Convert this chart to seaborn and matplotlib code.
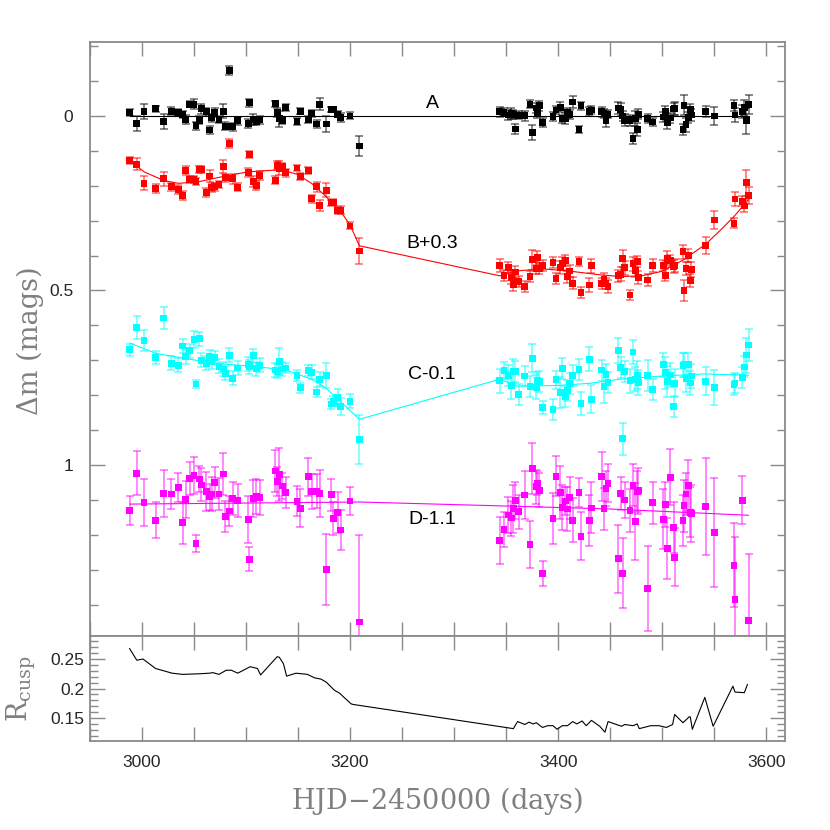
import numpy as np
import matplotlib
matplotlib.use("Agg")
import matplotlib.pyplot as plt
import seaborn as sns
from matplotlib.ticker import MultipleLocator, FixedLocator, FuncFormatter

nan = np.nan

# epochs (HJD-2450000), season 1 and season 2
t_season1 = [2988, 2995, 3002, 3013, 3021, 3028, 3035, 3039, 3042, 3046, 3050, 3052, 3055, 3057, 3062,
             3065, 3067, 3070, 3074, 3078, 3080, 3084, 3087, 3092, 3102, 3103, 3107, 3110, 3113, 3128,
             3130, 3132, 3135, 3138, 3149, 3152, 3160, 3163, 3168, 3171, 3177, 3182, 3184, 3188, 3191,
             3200, 3209]
t_season2 = [3344, 3348, 3352, 3355, 3357, 3359, 3362, 3368, 3373, 3375, 3379, 3380, 3382, 3385, 3395,
             3398, 3402, 3404, 3407, 3409, 3411, 3414, 3420, 3422, 3430, 3432, 3442, 3444, 3446, 3448,
             3458, 3460, 3462, 3464, 3469, 3472, 3474, 3476, 3477, 3486, 3491, 3501, 3503, 3505, 3508,
             3511, 3512, 3520, 3521, 3523, 3525, 3527, 3528, 3542, 3550, 3569, 3570, 3577, 3579, 3581,
             3583]

# image A
a_s1 = [-0.010, 0.021, -0.012, -0.021, 0.015, -0.014, -0.010, -0.005, 0.010, -0.034, -0.034, 0.028,
        0.012, -0.021, -0.012, 0.040, 0.005, -0.010, 0.009, -0.014, 0.029, -0.130, 0.031, 0.014, 0.021,
        -0.038, 0.009, 0.015, 0.011, -0.035, -0.010, 0.008, 0.013, -0.024, 0.015, -0.014, 0.010, -0.007,
        0.023, -0.034, 0.023, -0.019, -0.018, -0.005, 0.004, 0.000, 0.086]
a_s2 = [-0.012, -0.011, -0.003, -0.007, -0.004, 0.037, -0.002, -0.001, -0.034, 0.047,
        -0.023, -0.010, -0.029, 0.019, 0.001, -0.017, -0.025, 0.008, 0.007, -0.010,
        -0.004, -0.040, 0.039, -0.029, -0.013, -0.017, -0.012, -0.007, 0.014, -0.005,
        -0.023, -0.019, 0.000, 0.012, 0.014, 0.065, 0.007, 0.039, -0.005, 0.007,
        0.017, 0.003, -0.014, 0.019, 0.006, -0.020, -0.022, 0.039, -0.031, 0.025,
        0.004, -0.019, -0.003, -0.013, 0.000, -0.030, -0.003, -0.013, -0.025, 0.014, -0.033]
a_err1 = [0.010, 0.022, 0.021, 0.009, 0.021, 0.012, 0.010, 0.010, 0.012, 0.009, 0.014, 0.011, 0.012,
          0.014, 0.012, 0.012, 0.012, 0.012, 0.010, 0.020, 0.012, 0.013, 0.012, 0.012, 0.012, 0.011,
          0.016, 0.012, 0.012, 0.009, 0.013, 0.023, 0.010, 0.011, 0.010, 0.009, 0.010, 0.011, 0.011,
          0.018, 0.023, 0.008, 0.008, 0.009, 0.013, 0.010, 0.030]
a_err2 = [0.014, 0.012, 0.015, 0.015, 0.012, 0.015, 0.012, 0.014, 0.012, 0.022,
          0.015, 0.015, 0.014, 0.012, 0.012, 0.012, 0.014, 0.012, 0.015, 0.012,
          0.012, 0.016, 0.010, 0.012, 0.014, 0.012, 0.014, 0.014, 0.018, 0.012,
          0.016, 0.018, 0.015, 0.018, 0.016, 0.016, 0.022, 0.018, 0.014, 0.014,
          0.012, 0.014, 0.014, 0.018, 0.014, 0.018, 0.018, 0.016, 0.028, 0.020,
          0.016, 0.014, 0.018, 0.015, 0.025, 0.015, 0.020, 0.018, 0.022, 0.037, 0.026]

# image B (plotted with +0.3 offset)
b_s1 = [0.128, 0.138, 0.193, 0.208, 0.180, 0.203, 0.211, 0.228, 0.156, 0.181, 0.183, 0.187, 0.154,
        0.154, 0.219, 0.172, 0.205, 0.203, 0.196, 0.144, 0.177, 0.079, 0.180, 0.204, 0.162, 0.110,
        0.188, 0.199, 0.170, 0.184, 0.142, 0.150, 0.144, 0.163, 0.149, 0.174, 0.156, 0.237, 0.203,
        0.257, 0.213, 0.249, 0.247, 0.270, 0.270, 0.315, 0.387]
b_s2 = [0.429, 0.456, 0.434, 0.462, 0.483, 0.447, 0.474, 0.488, 0.460, 0.412,
        0.436, 0.406, 0.436, 0.428, 0.419, 0.466, 0.434, 0.422, 0.415, 0.461,
        0.444, 0.479, 0.417, 0.506, 0.484, 0.429, 0.480, 0.469, 0.480, 0.488,
        0.458, 0.454, 0.408, 0.435, 0.513, 0.423, 0.442, 0.416, 0.462, 0.470,
        0.428, 0.429, 0.456, 0.408, 0.415, 0.432, 0.429, 0.389, 0.500, 0.437,
        0.400, 0.471, 0.439, 0.370, 0.298, 0.307, 0.238, 0.244, 0.258, 0.191, 0.227]
b_err1 = [0.010, 0.018, 0.020, 0.012, 0.020, 0.012, 0.012, 0.012, 0.012, 0.010, 0.010, 0.010, 0.010,
          0.010, 0.012, 0.018, 0.012, 0.012, 0.010, 0.018, 0.012, 0.012, 0.014, 0.012, 0.012, 0.010,
          0.015, 0.012, 0.012, 0.012, 0.012, 0.020, 0.010, 0.012, 0.010, 0.010, 0.010, 0.012, 0.015,
          0.015, 0.020, 0.008, 0.008, 0.010, 0.012, 0.010, 0.036]
b_err2 = [0.018, 0.016, 0.015, 0.018, 0.018, 0.016, 0.015, 0.016, 0.016, 0.029,
          0.018, 0.020, 0.016, 0.016, 0.016, 0.016, 0.018, 0.018, 0.016, 0.018,
          0.016, 0.018, 0.014, 0.016, 0.020, 0.020, 0.016, 0.018, 0.016, 0.018,
          0.018, 0.020, 0.024, 0.020, 0.014, 0.020, 0.020, 0.016, 0.018, 0.018,
          0.018, 0.016, 0.018, 0.020, 0.018, 0.018, 0.018, 0.020, 0.029, 0.018,
          0.018, 0.018, 0.022, 0.024, 0.027, 0.014, 0.021, 0.015, 0.018, 0.037, 0.024]

# image C (plotted with -0.1 offset)
c_s1 = [0.670, 0.606, 0.644, 0.692, 0.579, 0.709, 0.714, 0.659, 0.690, 0.673, 0.640, 0.768, 0.638,
        0.700, 0.709, 0.690, 0.704, 0.692, 0.717, 0.725, 0.737, 0.686, 0.751, 0.722, 0.711, 0.718,
        0.687, 0.724, 0.714, 0.728, 0.732, 0.703, 0.725, 0.722, 0.743, 0.779, 0.729, 0.734, 0.791,
        0.754, 0.744, 0.825, 0.817, 0.806, 0.833, 0.817, 0.926]
c_s2 = [0.759, 0.729, 0.744, 0.772, 0.731, 0.733, 0.797, 0.745, 0.775, 0.694,
        0.777, 0.759, 0.761, 0.835, 0.840, 0.756, 0.793, 0.724, 0.803, 0.786,
        0.766, 0.744, 0.727, 0.824, 0.697, 0.812, 0.728, 0.776, 0.740, 0.763,
        0.672, 0.721, 0.925, 0.731, 0.759, 0.676, 0.754, 0.743, 0.763, 0.743,
        0.783, 0.713, 0.736, 0.761, 0.742, 0.832, 0.766, 0.714, 0.713, 0.752,
        0.713, 0.765, 0.745, 0.760, 0.778, 0.769, 0.765, 0.750, 0.719, 0.685, 0.656]
c_err1 = [0.017, 0.032, 0.030, 0.020, 0.032, 0.020, 0.020, 0.020, 0.020, 0.020, 0.025, 0.012, 0.020,
          0.020, 0.020, 0.020, 0.020, 0.020, 0.020, 0.020, 0.020, 0.020, 0.020, 0.020, 0.020, 0.020,
          0.020, 0.020, 0.020, 0.020, 0.020, 0.038, 0.020, 0.015, 0.015, 0.015, 0.015, 0.020, 0.015,
          0.020, 0.035, 0.015, 0.015, 0.025, 0.025, 0.020, 0.070]
c_err2 = [0.034, 0.025, 0.030, 0.040, 0.035, 0.030, 0.030, 0.030, 0.030, 0.040,
          0.035, 0.025, 0.030, 0.018, 0.030, 0.025, 0.045, 0.030, 0.030, 0.030,
          0.030, 0.030, 0.030, 0.032, 0.034, 0.040, 0.030, 0.045, 0.030, 0.030,
          0.036, 0.030, 0.046, 0.030, 0.035, 0.035, 0.035, 0.040, 0.035, 0.045,
          0.030, 0.035, 0.045, 0.045, 0.035, 0.030, 0.040, 0.035, 0.035, 0.040,
          0.035, 0.035, 0.035, 0.040, 0.050, 0.030, 0.030, 0.030, 0.030, 0.050, 0.046]

# image D (plotted with -1.1 offset)
d_s1 = [1.130, 1.024, 1.107, 1.158, 1.082, 1.083, 1.065, 1.165, 1.099, 1.038, 1.030, 1.224, 1.040,
        1.057, 1.075, 1.091, 1.083, 1.051, 1.083, 1.026, 1.148, 1.132, 1.097, 1.102, 1.157, 1.270,
        1.096, 1.090, 1.094, 1.017, 1.048, 1.028, 1.060, 1.079, 1.104, 1.124, 1.034, 1.077, 1.075,
        1.082, 1.299, 1.085, 1.154, 1.136, 1.186, 1.103, 1.450]
d_s2 = [1.217, 1.185, 1.143, 1.152, 1.125, 1.102, 1.134, 1.086, 1.228, 1.011,
        1.062, 1.052, 1.072, 1.311, 1.154, 1.032, 1.079, 1.122, 1.103, 1.126,
        1.094, 1.158, 1.078, 1.204, 1.160, 1.123, 1.034, 1.125, 1.067, 1.052,
        1.269, 1.082, 1.310, 1.100, 1.131, 1.058, 1.161, 1.077, 1.074, 1.354,
        1.108, 1.155, 1.114, 1.240, 1.035, 1.178, 1.264, 1.160, 1.117, 1.083,
        1.058, 1.135, 1.140, 1.119, 1.193, 1.287, 1.385, 1.101, nan, nan, 1.445]
d_err1 = [0.042, 0.063, 0.068, 0.052, 0.068, 0.044, 0.042, 0.060, 0.053, 0.048, 0.054, 0.024, 0.038,
          0.047, 0.056, 0.037, 0.049, 0.044, 0.046, 0.061, 0.044, 0.042, 0.047, 0.048, 0.067, 0.034,
          0.053, 0.050, 0.050, 0.059, 0.042, 0.076, 0.037, 0.045, 0.043, 0.054, 0.054, 0.050, 0.049,
          0.068, 0.102, 0.046, 0.047, 0.059, 0.057, 0.040, 0.250]
d_err2 = [0.068, 0.049, 0.051, 0.050, 0.069, 0.054, 0.048, 0.070, 0.068, 0.073,
          0.049, 0.035, 0.048, 0.037, 0.073, 0.057, 0.077, 0.064, 0.041, 0.063,
          0.060, 0.064, 0.042, 0.069, 0.073, 0.073, 0.070, 0.060, 0.050, 0.055,
          0.098, 0.048, 0.100, 0.052, 0.061, 0.060, 0.110, 0.059, 0.065, 0.122,
          0.060, 0.085, 0.064, 0.088, 0.081, 0.073, 0.084, 0.073, 0.074, 0.060,
          0.073, 0.071, 0.082, 0.138, 0.156, 0.120, 0.178, 0.069, nan, nan, 0.190]

# model curves
a_fit_t = [2988, 3583]
a_fit = [0.0, 0.0]
b_fit_t = [2988, 3002, 3021, 3035, 3055, 3080, 3102, 3128, 3138, 3149, 3163, 3177, 3191, 3200, 3209,
           3344, 3360, 3385, 3410, 3440, 3460, 3480, 3500, 3520, 3542, 3555, 3569, 3583]
b_fit = [0.127, 0.160, 0.185, 0.193, 0.188, 0.172, 0.160, 0.155, 0.158, 0.167, 0.193, 0.231, 0.274,
         0.312, 0.372, 0.458, 0.444, 0.438, 0.444, 0.455, 0.460, 0.458, 0.445, 0.413, 0.367, 0.330,
         0.288, 0.240]
c_fit_t = [2988, 3013, 3050, 3080, 3110, 3138, 3163, 3177, 3191, 3209, 3344, 3360, 3400, 3430, 3460,
           3500, 3540, 3583]
c_fit = [0.650, 0.680, 0.699, 0.711, 0.718, 0.728, 0.754, 0.780, 0.819, 0.869, 0.754, 0.774, 0.772,
         0.766, 0.754, 0.745, 0.739, 0.743]
d_fit_t = [2988, 3100, 3209, 3344, 3450, 3583]
d_fit = [1.112, 1.109, 1.106, 1.117, 1.126, 1.144]

# cusp ratio
r_t = [2988, 2995, 3001, 3013, 3029, 3039, 3055, 3065, 3068, 3074, 3081, 3086, 3092, 3104, 3111, 3114,
       3130, 3132, 3136, 3139, 3148, 3159, 3166, 3172, 3177, 3185, 3190, 3193, 3201, 3203, 3357, 3361,
       3368, 3372, 3376, 3379, 3385, 3390, 3395, 3399, 3404, 3409, 3414, 3418, 3423, 3427, 3432, 3440,
       3443, 3445, 3448, 3456, 3461, 3464, 3472, 3476, 3478, 3489, 3497, 3504, 3510, 3512, 3520, 3526,
       3527, 3529, 3541, 3549, 3568, 3570, 3579, 3582]
r_cusp = [0.268, 0.248, 0.250, 0.234, 0.226, 0.224, 0.225, 0.226, 0.227, 0.224, 0.231, 0.231, 0.226,
          0.237, 0.234, 0.223, 0.254, 0.253, 0.242, 0.221, 0.226, 0.224, 0.218, 0.216, 0.211, 0.197,
          0.192, 0.187, 0.174, 0.173, 0.132, 0.144, 0.139, 0.143, 0.140, 0.142, 0.134, 0.137, 0.137,
          0.131, 0.137, 0.137, 0.144, 0.140, 0.145, 0.137, 0.146, 0.136, 0.130, 0.126, 0.144, 0.139,
          0.136, 0.139, 0.137, 0.140, 0.132, 0.137, 0.137, 0.134, 0.139, 0.156, 0.142, 0.152, 0.152,
          0.131, 0.185, 0.136, 0.204, 0.194, 0.193, 0.207]

series = [
    ("A", "black", a_s1 + a_s2, a_err1 + a_err2, a_fit_t, a_fit, -0.037),
    ("B+0.3", "red", b_s1 + b_s2, b_err1 + b_err2, b_fit_t, b_fit, 0.364),
    ("C-0.1", "cyan", c_s1 + c_s2, c_err1 + c_err2, c_fit_t, c_fit, 0.742),
    ("D-1.1", "magenta", d_s1 + d_s2, d_err1 + d_err2, d_fit_t, d_fit, 1.155),
]
hjd = t_season1 + t_season2

sns.set_style("ticks")
plt.rcParams['font.family'] = ['Liberation Sans', 'DejaVu Sans']
plt.rcParams['mathtext.fontset'] = 'dejavuserif'

grey = "#8a8a8a"
fig = plt.figure(figsize=(8.3, 8.3), dpi=100)
ax = fig.add_axes([0.1084, 0.2337, 0.8373, 0.7157])
ax2 = fig.add_axes([0.1084, 0.1072, 0.8373, 0.1265], sharex=ax)

for name, col, mag, err, ft, fv, ylab in series:
    ax.errorbar(hjd, mag, yerr=err, fmt='none', ecolor=col, alpha=0.5,
                elinewidth=1.3, capsize=3, capthick=1.3, zorder=2)
    sns.lineplot(x=ft, y=fv, ax=ax, color=col, lw=0.8, sort=False, estimator=None, zorder=3)
    sns.scatterplot(x=hjd, y=mag, ax=ax, marker='s', s=24, color=col, edgecolor='none',
                    linewidth=0, zorder=4)
    ax.text(3279, ylab, name, ha='center', va='center', fontsize=14, color='black')

sns.lineplot(x=r_t, y=r_cusp, ax=ax2, color='black', lw=0.8, sort=False, estimator=None)

ax.set_xlim(2950, 3618)
ax.set_ylim(1.49, -0.212)
ax2.set_ylim(0.111, 0.289)

fmt = FuncFormatter(lambda v, p: f"{v:g}")
ax.yaxis.set_major_locator(FixedLocator([0, 0.5, 1]))
ax.yaxis.set_minor_locator(MultipleLocator(0.1))
ax.yaxis.set_major_formatter(fmt)
ax2.yaxis.set_major_locator(FixedLocator([0.15, 0.2, 0.25]))
ax2.yaxis.set_minor_locator(MultipleLocator(0.01))
ax2.yaxis.set_major_formatter(fmt)
ax2.xaxis.set_major_locator(MultipleLocator(200))
ax2.xaxis.set_minor_locator(MultipleLocator(50))

for a in (ax, ax2):
    a.tick_params(which='both', direction='in', top=True, right=True, color=grey,
                  width=1.0, labelsize=12.5, pad=10)
    a.tick_params(axis='y', which='major', length=11)
    a.tick_params(axis='y', which='minor', length=6)
    a.tick_params(axis='x', which='both', length=10)
    for s in a.spines.values():
        s.set_color(grey)
        s.set_linewidth(1.3)
    a.set_xlabel("")
    a.set_ylabel("")

ax.tick_params(axis='x', labelbottom=False)
ax.tick_params(axis='y', pad=12)
ax2.tick_params(axis='y', pad=4)

lab = dict(fontsize=19.5, color="#808080", family='DejaVu Serif')
ax2.set_xlabel("HJD$-$2450000 (days)", labelpad=11, **lab)
fig.text(0.036, 0.59, "Δm (mags)", rotation=90, ha='center', va='center', **lab)
fig.text(0.026, 0.17, r"$\mathrm{R_{cusp}}$", rotation=90, ha='center', va='center', **lab)

fig.savefig("out.png", dpi=100)
